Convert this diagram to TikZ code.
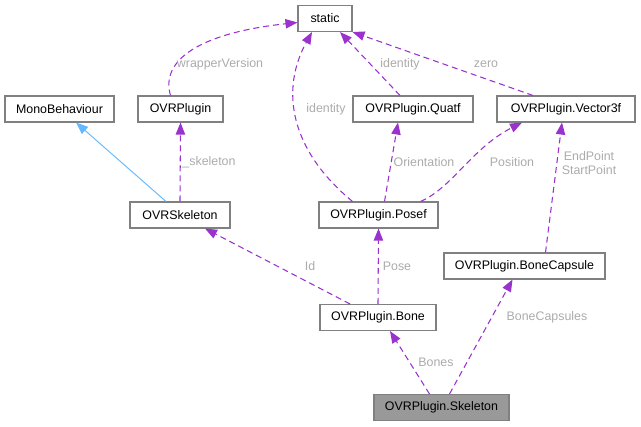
\documentclass[tikz,border=0pt]{standalone}
\usepackage{fontspec}
\setmainfont{Liberation Sans}
\usepackage{xcolor}
\usepackage{tikz}
\usetikzlibrary{arrows.meta, calc}

\definecolor{usecol}{HTML}{9A32CD}
\definecolor{inhcol}{HTML}{63B8FF}
\definecolor{edgelbl}{HTML}{ABABAB}
\definecolor{boxline}{HTML}{808080}

\tikzset{
  classbox/.style={draw=boxline, line width=0.8pt, fill=white, minimum height=19.5pt,
    inner xsep=7pt, font=\fontsize{9.3}{11}\selectfont},
  usedby/.style={draw=usecol, line width=0.8pt, dash pattern=on 4.5pt off 3pt,
    -{Triangle[length=9pt, width=7pt]}},
  inherits/.style={draw=inhcol, line width=0.7pt, -{Triangle[length=9pt, width=7pt]}},
  edgetext/.style={text=edgelbl, font=\fontsize{9.3}{11}\selectfont, inner sep=0pt}
}

\begin{document}
\begin{tikzpicture}[x=0.75pt, y=-0.75pt]
\useasboundingbox (0,0) rectangle (641,427);

% classes
\node[classbox, minimum width=40.5pt] (static) at (325,18.5) {static};
\node[classbox, minimum width=81.75pt] (mono) at (59.5,109) {MonoBehaviour};
\node[classbox, minimum width=63.75pt] (ovrplugin) at (180.5,109) {OVRPlugin};
\node[classbox, minimum width=90pt] (quatf) at (413,109) {OVRPlugin.Quatf};
\node[classbox, minimum width=103.5pt] (vec) at (566,109) {OVRPlugin.Vector3f};
\node[classbox, minimum width=75pt] (ovrskel) at (180,215) {OVRSkeleton};
\node[classbox, minimum width=89.25pt] (posef) at (378.5,215) {OVRPlugin.Posef};
\node[classbox, minimum width=120.75pt] (bcap) at (524.5,266) {OVRPlugin.BoneCapsule};
\node[classbox, minimum width=87pt] (bone) at (378,317.5) {OVRPlugin.Bone};
\node[classbox, minimum width=101.25pt, fill={rgb,255:red,153;green,153;blue,153}] (skeleton) at (441.5,407.5) {OVRPlugin.Skeleton};

% inheritance
\draw[inherits] ($(ovrskel.north)+(-14,0)$) -- ($(mono.south)+(16.5,0)$);

% member relations
\draw[usedby] (ovrskel.north) -- (ovrplugin.south);
\draw[usedby] ($(ovrplugin.north)+(-10,0)$) .. controls (160,60) and (200,33) .. ($(static.west)+(0,4)$);
\draw[usedby] ($(posef.north)+(-26,0)$) .. controls (290,150) and (280,90) .. ($(static.south)+(-13,0)$);
\draw[usedby] ($(quatf.north)+(-13,0)$) -- ($(static.south)+(15,0)$);
\draw[usedby] ($(vec.north)+(-33,0)$) -- (static.south east);
\draw[usedby] ($(posef.north)+(6,0)$) -- ($(quatf.south)+(-15,0)$);
\draw[usedby] ($(posef.north)+(42,0)$) .. controls (452,188) and (472,148) .. ($(vec.south)+(-44,0)$);
\draw[usedby] ($(bcap.north)+(21,0)$) -- ($(vec.south)+(-4,0)$);
\draw[usedby] ($(bone.north)+(-28,0)$) -- ($(ovrskel.south)+(25,0)$);
\draw[usedby] (bone.north) -- (posef.south);
\draw[usedby] ($(skeleton.north)+(-12,0)$) -- ($(bone.south)+(12,0)$);
\draw[usedby] ($(skeleton.north)+(8,0)$) -- ($(bcap.south)+(-12,0)$);

% edge labels
\node[edgetext] (lwrap) at (220,64) {wrapperVersion};
\node[edgetext] (lskel) at (209,162) {\_skeleton};
\node[edgetext] (lid1) at (326,109) {identity};
\node[edgetext] (lid2) at (400,64) {identity};
\node[edgetext] (lzero) at (486,64) {zero};
\node[edgetext] (lorient) at (424,162) {Orientation};
\node[edgetext] (lpos) at (512,162) {Position};
\node[edgetext, align=center] (lpts) at (589,163) {EndPoint\\StartPoint};
\node[edgetext] (lid) at (310,266) {Id};
\node[edgetext] (lpose) at (397,266) {Pose};
\node[edgetext] (lbones) at (436,362) {Bones};
\node[edgetext] (lcaps) at (547,317) {BoneCapsules};
\end{tikzpicture}
\end{document}
